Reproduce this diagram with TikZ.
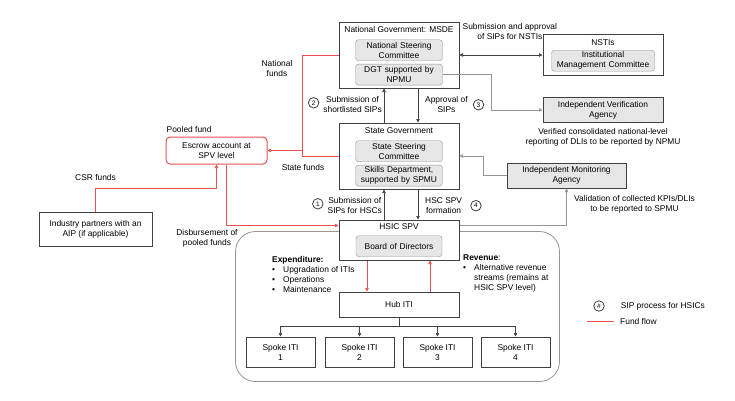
\documentclass[tikz,border=0pt]{standalone}
\usepackage{fontspec}
\setmainfont{Liberation Sans}
\usepackage{tikz}
\usepackage{xcolor}
\usetikzlibrary{positioning}
\usetikzlibrary{calc, arrows.meta, backgrounds}
\definecolor{darkline}{RGB}{64,64,64}
\definecolor{greyline}{RGB}{150,150,150}
\definecolor{greyfill}{RGB}{230,230,230}
\definecolor{fundred}{RGB}{235,80,80}

\begin{document}
\begin{tikzpicture}[x=1pt, y=1pt, font=\fontsize{8.4}{10}\selectfont]
	\tikzstyle{box} = [draw=darkline, line width=1pt, fill=white, align=center, inner sep=2pt]
	\tikzstyle{inbox} = [draw=greyline, fill=greyfill, rounded corners=3pt, align=center, text width=81pt, inner xsep=3pt, inner ysep=1pt, minimum height=21pt]
	\tikzstyle{ttl} = [inner sep=0pt]
	\tikzstyle{txt} = [inner sep=0pt, align=center]
	\tikzstyle{num} = [circle, draw=darkline, line width=0.8pt, inner sep=0pt, minimum size=10.5pt, font=\fontsize{6.5}{7}\selectfont]
	\tikzstyle{arr} = [darkline, line width=0.7pt, -{Triangle[length=3.5pt, width=3.5pt]}]
	\tikzstyle{garr} = [arr, greyline]
	\tikzstyle{biarr} = [darkline, line width=0.7pt, {Triangle[length=3.5pt, width=3.5pt]}-{Triangle[length=3.5pt, width=3.5pt]}]
	\tikzstyle{fund} = [fundred, line width=0.7pt]
	\tikzstyle{fundarr} = [fund, -{Triangle[length=3.5pt, width=3.5pt]}]

	\useasboundingbox (0,0) rectangle (735,-400);

	% national level
	\node (nat) [box, minimum width=120pt, minimum height=66pt] at (399,-55) {};
	\node (natT) [ttl, below=5pt of nat.north] {National Government: MSDE};
	\node (nsc) [inbox, below=18pt of nat.north] {National Steering\\Committee};
	\node (dgt) [inbox, below=3pt of nsc] {DGT supported by\\NPMU};

	% state level
	\node (st) [box, minimum width=120pt, minimum height=66pt, below=34pt of nat] {};
	\node (stT) [ttl, below=5pt of st.north] {State Government};
	\node (ssc) [inbox, below=18pt of st.north] {State Steering\\Committee};
	\node (skl) [inbox, below=3pt of ssc] {Skills Department,\\supported by SPMU};

	% spv and itis
	\node (hsic) [box, minimum width=120pt, minimum height=40pt, below=30pt of st] {};
	\node (hsicT) [ttl, below=4pt of hsic.north] {HSIC SPV};
	\node (bod) [inbox, text width=80pt, below=16pt of hsic.north] {Board of Directors};
	\node (hub) [box, minimum width=120pt, minimum height=25pt, below=31pt of hsic] {Hub ITI};
	\node (sp1) [box, minimum width=69pt, minimum height=30pt, below left=19pt and 23pt of hub] {Spoke ITI\\1};
	\node (sp2) [box, minimum width=69pt, minimum height=30pt, right=9pt of sp1] {Spoke ITI\\2};
	\node (sp3) [box, minimum width=69pt, minimum height=30pt, right=8pt of sp2] {Spoke ITI\\3};
	\node (sp4) [box, minimum width=69pt, minimum height=30pt, right=8pt of sp3] {Spoke ITI\\4};

	\begin{scope}[on background layer]
		\draw [greyline, line width=0.8pt, rounded corners=20pt] ($(sp1.south west)+(-10,-14)$) rectangle ($(sp4.south east |- hsic.north)+(9,-12)$);
	\end{scope}

	\node (exp) [txt, align=left, anchor=north west] at (272,-256) {\textbf{Expenditure:}\\\makebox[11pt][l]{\textbullet}Upgradation of ITIs\\\makebox[11pt][l]{\textbullet}Operations\\\makebox[11pt][l]{\textbullet}Maintenance};
	\node (rev) [txt, align=left, anchor=north west] at (463,-255) {\textbf{Revenue}:\\\makebox[11pt][l]{\textbullet}Alternative revenue\\\hspace*{11pt}streams (remains at\\\hspace*{11pt}HSIC SPV level)};

	% right side
	\node (nsti) [box, minimum width=120pt, minimum height=41pt, right=83pt of nat] {};
	\node (nstiT) [ttl, below=5pt of nsti.north] {NSTIs};
	\node (imc) [inbox, text width=97pt, below=16pt of nsti.north] {Institutional\\Management Committee};
	\node (iva) [box, fill=greyfill, minimum width=120pt, minimum height=25pt, below=21pt of nsti] {Independent Verification\\Agency};
	\node (ivaT) [txt, below=5pt of iva] {Verified consolidated national-level\\reporting of DLIs to be reported by NPMU};
	\node (ima) [box, fill=greyfill, minimum width=119pt, minimum height=25pt, right=47pt of st, yshift=-19.5pt] {Independent Monitoring\\Agency};
	\node (valT) [txt, below=6.5pt of ima, xshift=68pt] {Validation of collected KPIs/DLIs\\to be reported to SPMU};
	\node (sipT) [txt, below right=1.5pt and 3pt of nat.north east] {Submission and approval\\of SIPs for NSTIs};

	% left side
	\node (esc) [box, draw=fundred, rounded corners=4pt, minimum width=101pt, minimum height=27pt, left=71pt of st, yshift=5.5pt] {Escrow account at\\SPV level};
	\node (pool) [ttl, above right=4pt and 1pt of esc.north west] {Pooled fund};
	\node (ind) [box, minimum width=113pt, minimum height=34pt, below left=47pt and 13pt of esc] {Industry partners with an\\AIP (if applicable)};
	\node (csr) [ttl, above=31pt of ind] {CSR funds};
	\node (natf) [txt] at (277,-68) {National\\funds};
	\node (stf) [ttl] at (303,-167) {State funds};
	\node (disb) [txt] at (207,-238) {Disbursement of\\pooled funds};

	% sip steps
	\node (sub2) [txt, below left=8pt and 17pt of nat.south] {Submission of\\shortlisted SIPs};
	\node (n2) [num, left=4pt of sub2, yshift=2pt] {2};
	\node (app3) [txt, below right=8pt and 26pt of nat.south] {Approval of\\SIPs};
	\node (n3) [num, right=5pt of app3] {3};
	\node (sub1) [txt, below left=8pt and 17pt of st.south] {Submission of\\SIPs for HSCs};
	\node (n1) [num, left=4pt of sub1, yshift=2pt] {1};
	\node (spv4) [txt, below right=8pt and 26pt of st.south] {HSC SPV\\formation};
	\node (n4) [num, right=8pt of spv4] {4};

	% legend
	\node (lgn) [num] at (599,-306) {\#};
	\node (lgnT) [ttl, right=16pt of lgn] {SIP process for HSICs};
	\node (lgfT) [ttl, anchor=west] at (620,-321) {Fund flow};
	\coordinate (lgf) at (587,-321);

	\draw [biarr] (nat) -- (nsti);
	\draw [garr] (dgt.east) -- ++(49,0) |- (iva);
	\draw [arr] ([xshift=-15pt]st.north) -- ([xshift=-15pt]nat.south);
	\draw [arr] ([xshift=19pt]nat.south) -- ([xshift=19pt]st.north);
	\draw [arr] ([xshift=-15pt]hsic.north) -- ([xshift=-15pt]st.south);
	\draw [arr] ([xshift=19pt]st.south) -- ([xshift=19pt]hsic.north);
	\draw [garr] (ima.west) -- ++(-23,0) |- (st.east);
	\draw [garr] ([yshift=-6pt]hsic.north east) -| (ima);

	\draw [fund] (nat.west) -| ([xshift=-36pt]st.west) -- (st.west);
	\draw [fundarr] ([xshift=-36pt]st.west |- esc.east) -- (esc);
	\draw [fundarr] (ind.north) -- ++(0,23) -| (esc);
	\draw [fundarr] ([xshift=10pt]esc.south) |- ([yshift=-6pt]hsic.north west);
	\draw [fundarr] ([xshift=-32pt]hsic.south) -- ([xshift=-32pt]hub.north);
	\draw [fundarr] ([xshift=31pt]hub.north) -- ([xshift=31pt]hsic.south);

	\draw [arr] (hub.south) -- ++(0,-9) -| (sp1);
	\draw [arr] (hub.south) -- ++(0,-9) -| (sp2);
	\draw [arr] (hub.south) -- ++(0,-9) -| (sp3);
	\draw [arr] (hub.south) -- ++(0,-9) -| (sp4);

	\draw [fund, line width=1pt] (lgf) -- ([xshift=-6pt]lgfT.west);
\end{tikzpicture}
\end{document}
